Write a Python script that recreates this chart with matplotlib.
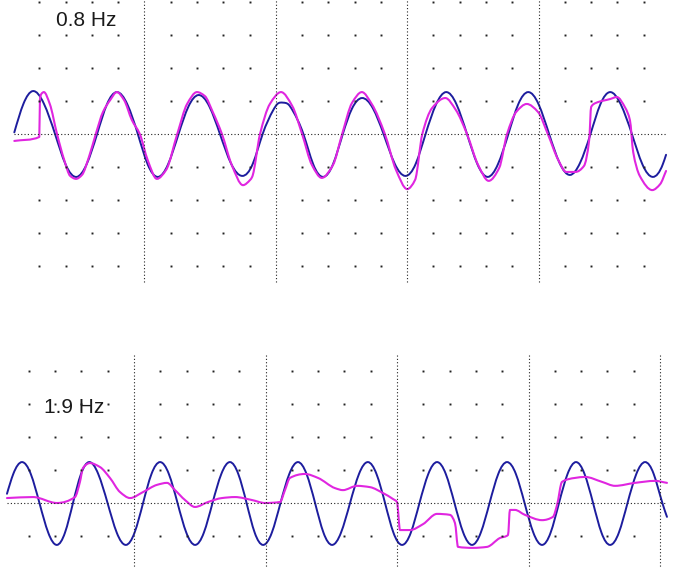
import numpy as np
import matplotlib
matplotlib.use("Agg")
import matplotlib.pyplot as plt
from matplotlib.path import Path
from matplotlib.patches import PathPatch

# two scope captures: drive signal (blue) and response (magenta)
# time in seconds, amplitude in grid divisions
labels = ["0.8 Hz", "1.9 Hz"]

top_blue = [
    (0.02, 0.05), (0.16, 0.92), (0.30, 1.30), (0.47, 0.92), (0.64, 0.0), (0.80, -0.92), (0.97, -1.30),
    (1.12, -0.92), (1.28, 0.0), (1.43, 0.90), (1.58, 1.27), (1.74, 0.90), (1.90, 0.0), (2.05, -0.92),
    (2.21, -1.30), (2.36, -0.92), (2.52, 0.0), (2.67, 0.83), (2.82, 1.18), (2.99, 0.83), (3.15, 0.0),
    (3.32, -0.90), (3.49, -1.27), (3.65, -0.90), (3.80, 0.0), (3.96, 0.72), (4.03, 0.92), (4.11, 0.95),
    (4.19, 0.90), (4.26, 0.70), (4.42, 0.0), (4.57, -0.92), (4.72, -1.30), (4.87, -0.92), (5.02, 0.0),
    (5.16, 0.77), (5.31, 1.09), (5.48, 0.77), (5.64, 0.0), (5.81, -0.90), (5.97, -1.27), (6.13, -0.90),
    (6.28, 0.0), (6.44, 0.90), (6.59, 1.27), (6.75, 0.90), (6.91, 0.0), (7.07, -0.92), (7.23, -1.30),
    (7.38, -0.92), (7.54, 0.0), (7.69, 0.90), (7.84, 1.27), (8.00, 0.90), (8.16, 0.0), (8.32, -0.88),
    (8.48, -1.24), (8.63, -0.88), (8.79, 0.0), (8.94, 0.90), (9.09, 1.27), (9.25, 0.90), (9.42, 0.0),
    (9.58, -0.92), (9.74, -1.30), (9.89, -0.92), (9.94, -0.63),
]

top_magenta = [
    (0.02, -0.21), (0.40, -0.09), (0.41, 1.03), (0.43, 1.21), (0.47, 1.27), (0.56, 0.91), (0.67, 0.0),
    (0.78, -0.79), (0.87, -1.27), (0.96, -1.36), (1.05, -1.24), (1.16, -0.67), (1.26, 0.0), (1.37, 0.67),
    (1.48, 1.03), (1.58, 1.27), (1.69, 1.03), (1.81, 0.42), (1.93, 0.0), (2.05, -0.79), (2.19, -1.36),
    (2.33, -1.09), (2.50, 0.0), (2.65, 0.91), (2.80, 1.27), (2.92, 1.15), (3.04, 0.67), (3.18, 0.0),
    (3.33, -0.94), (3.50, -1.55), (3.61, -1.39), (3.64, -1.30), (3.76, 0.0), (3.91, 0.91), (4.08, 1.27),
    (4.25, 0.85), (4.40, 0.0), (4.55, -0.94), (4.70, -1.33), (4.87, -0.94), (5.01, 0.0), (5.16, 0.94),
    (5.31, 1.27), (5.46, 0.91), (5.66, 0.0), (5.83, -1.09), (6.00, -1.67), (6.12, -1.39), (6.23, 0.0),
    (6.38, 0.79), (6.58, 1.09), (6.74, 0.73), (6.91, 0.0), (7.08, -0.94), (7.24, -1.42), (7.40, -1.03),
    (7.52, 0.0), (7.66, 0.67), (7.82, 0.91), (7.99, 0.67), (8.14, 0.0), (8.30, -0.79), (8.42, -1.15),
    (8.56, -1.15), (8.69, -0.97), (8.77, -0.18), (8.80, 0.82), (8.87, 0.94), (9.09, 1.06), (9.19, 1.12),
    (9.32, 0.79), (9.39, 0.42), (9.44, -0.55), (9.54, -1.27), (9.73, -1.70), (9.85, -1.52), (9.94, -1.12),
]

bot_blue = [
    (0.034, 0.28), (0.082, 0.88), (0.148, 1.24), (0.215, 0.88), (0.281, 0.0), (0.348, -0.90), (0.414, -1.27),
    (0.475, -0.90), (0.536, 0.0), (0.597, 0.88), (0.658, 1.24), (0.728, 0.88), (0.799, 0.0), (0.869, -0.90),
    (0.939, -1.27), (1.004, -0.90), (1.069, 0.0), (1.133, 0.88), (1.198, 1.24), (1.265, 0.88), (1.331, 0.0),
    (1.398, -0.90), (1.464, -1.27), (1.531, -0.90), (1.597, 0.0), (1.664, 0.88), (1.730, 1.24), (1.793, 0.88),
    (1.856, 0.0), (1.918, -0.90), (1.981, -1.27), (2.048, -0.90), (2.114, 0.0), (2.181, 0.88), (2.247, 1.24),
    (2.312, 0.88), (2.377, 0.0), (2.441, -0.90), (2.506, -1.27), (2.574, -0.90), (2.643, 0.0), (2.711, 0.88),
    (2.779, 1.24), (2.844, 0.88), (2.909, 0.0), (2.973, -0.90), (3.038, -1.27), (3.105, -0.90), (3.171, 0.0),
    (3.238, 0.88), (3.304, 1.24), (3.371, 0.88), (3.437, 0.0), (3.504, -0.90), (3.570, -1.27), (3.637, -0.90),
    (3.704, 0.0), (3.770, 0.88), (3.837, 1.24), (3.904, 0.88), (3.970, 0.0), (4.037, -0.90), (4.103, -1.27),
    (4.168, -0.90), (4.232, 0.0), (4.297, 0.88), (4.361, 1.24), (4.426, 0.88), (4.491, 0.0), (4.555, -0.90),
    (4.620, -1.27), (4.687, -0.90), (4.753, 0.0), (4.820, 0.88), (4.886, 1.24), (4.952, 0.88), (5.018, 0.0),
    (5.053, -0.42),
]

bot_magenta = [
    (0.034, 0.15), (0.232, 0.18), (0.414, 0.00), (0.551, 0.18), (0.589, 0.64), (0.612, 1.06), (0.665, 1.21),
    (0.741, 1.09), (0.817, 0.76), (0.894, 0.33), (0.970, 0.15), (1.068, 0.33), (1.175, 0.55), (1.251, 0.61),
    (1.312, 0.39), (1.388, 0.09), (1.464, -0.12), (1.563, 0.03), (1.669, 0.15), (1.768, 0.18), (1.897, 0.09),
    (1.996, 0.00), (2.110, 0.03), (2.148, 0.39), (2.186, 0.76), (2.300, 0.88), (2.399, 0.76), (2.529, 0.45),
    (2.589, 0.39), (2.696, 0.52), (2.795, 0.48), (2.894, 0.30), (2.970, 0.12), (3.000, 0.03), (3.023, -0.82),
    (3.099, -0.82), (3.198, -0.64), (3.304, -0.33), (3.403, -0.36), (3.441, -0.61), (3.464, -1.33),
    (3.578, -1.36), (3.684, -1.33), (3.783, -1.06), (3.844, -0.97), (3.859, -0.21), (3.897, -0.21),
    (3.973, -0.36), (4.103, -0.52), (4.186, -0.42), (4.217, -0.06), (4.255, 0.64), (4.354, 0.76),
    (4.430, 0.79), (4.559, 0.64), (4.658, 0.52), (4.810, 0.61), (4.962, 0.67), (5.053, 0.61),
]

BLUE = "#1d1d9e"
MAGENTA = "#e026e0"
GRID = "#222222"


def spline_slopes(x, y):
    # natural cubic spline derivatives (smooth, for the sine drive)
    h = np.diff(x)
    d = np.diff(y) / h
    n = len(x)
    A = np.zeros((n, n))
    b = np.zeros(n)
    A[0, 0], A[0, 1], b[0] = 2, 1, 3 * d[0]
    A[-1, -2], A[-1, -1], b[-1] = 1, 2, 3 * d[-1]
    for k in range(1, n - 1):
        A[k, k - 1] = h[k]
        A[k, k] = 2 * (h[k - 1] + h[k])
        A[k, k + 1] = h[k - 1]
        b[k] = 3 * (h[k] * d[k - 1] + h[k - 1] * d[k])
    return np.linalg.solve(A, b)


def pchip_slopes(x, y):
    # monotone slopes, no overshoot at the steps of the response trace
    h = np.diff(x)
    d = np.diff(y) / h
    m = np.zeros_like(y)
    m[0], m[-1] = d[0], d[-1]
    for k in range(1, len(y) - 1):
        if d[k - 1] * d[k] <= 0:
            m[k] = 0.0
        else:
            w1 = 2 * h[k] + h[k - 1]
            w2 = h[k] + 2 * h[k - 1]
            m[k] = (w1 + w2) / (w1 / d[k - 1] + w2 / d[k])
    return m


def trace_patch(pts, color, lw, smooth):
    p = np.array(pts, dtype=float)
    x, y = p[:, 0], p[:, 1]
    h = np.diff(x)
    m = spline_slopes(x, y) if smooth else pchip_slopes(x, y)
    verts = [(x[0], y[0])]
    codes = [Path.MOVETO]
    for k in range(len(h)):
        verts += [(x[k] + h[k] / 3, y[k] + m[k] * h[k] / 3),
                  (x[k + 1] - h[k] / 3, y[k + 1] - m[k + 1] * h[k] / 3),
                  (x[k + 1], y[k + 1])]
        codes += [Path.CURVE4] * 3
    return PathPatch(Path(verts, codes), fill=False, edgecolor=color, lw=lw,
                     capstyle="round", joinstyle="round")


def scope_grid(ax, major, nlines, rows, vline_span, hline_span):
    dotted = (0, (1, 2))
    for i in range(1, nlines + 1):
        ax.plot([major * i] * 2, vline_span, color=GRID, lw=0.8, ls=dotted)
    ax.plot(hline_span, [0, 0], color=GRID, lw=0.8, ls=dotted)
    step = major / 5
    xs = [step * k for k in range(1, 25) if k % 5 != 0]
    for r in rows:
        ax.plot(xs, [r] * len(xs), ls="none", marker="s", ms=1.4, mec="none", color=GRID)


fig = plt.figure(figsize=(6.87, 5.68), dpi=100)

# top capture, 2 s per division
ax1 = fig.add_axes([13 / 687, 1 - 285 / 568, 657 / 687, 285 / 568])
ax1.set_xlim(0, 10)
ax1.set_ylim(-151 / 33, 134 / 33)
scope_grid(ax1, 2.0, 4, [4, 3, 2, 1, -1, -2, -3, -4], [-4.48, 4.1], [0.02, 9.94])
ax1.add_patch(trace_patch(top_blue, BLUE, 1.4, True))
ax1.add_patch(trace_patch(top_magenta, MAGENTA, 1.5, False))
ax1.text(0.65, 3.27, labels[0], fontsize=15, family="Liberation Sans", color="#1a1a1a")
ax1.axis("off")

# bottom capture, 1 s per division
ax2 = fig.add_axes([2.5 / 687, 0, 667.5 / 687, 223 / 568])
ax2.set_xlim(0, 667.5 / 131.5)
ax2.set_ylim(-65 / 33, 158 / 33)
scope_grid(ax2, 1.0, 5, [4, 3, 2, 1, -1, -2], [4.48, -2.0], [0.034, 5.046])
ax2.add_patch(trace_patch(bot_blue, BLUE, 1.4, True))
ax2.add_patch(trace_patch(bot_magenta, MAGENTA, 1.5, False))
ax2.text(0.316, 2.73, labels[1], fontsize=15, family="Liberation Sans", color="#1a1a1a")
ax2.axis("off")

fig.savefig("out.png", dpi=100)
